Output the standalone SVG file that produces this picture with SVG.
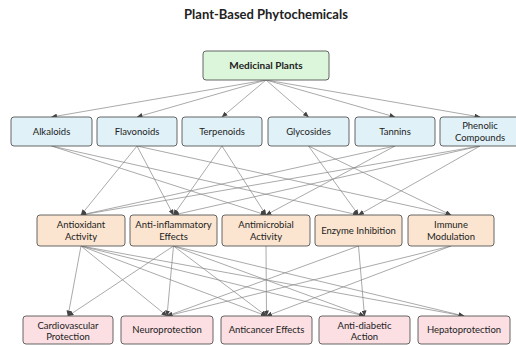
<svg xmlns="http://www.w3.org/2000/svg" width="516" height="345" viewBox="0 0 516 345">
<defs>
<marker id="ah" markerWidth="6" markerHeight="5" refX="5.5" refY="2.5" orient="auto" markerUnits="userSpaceOnUse">
<path d="M0,0 L6,2.5 L0,5 Z" fill="#444"/>
</marker>
<style>
.t{font-family:Lato,"Open Sans","Liberation Sans",sans-serif;font-size:9.5px;fill:#222;text-anchor:middle}
.b{stroke:#555;stroke-width:0.9}
.g{fill:#dcf6dc}.bl{fill:#e0f1f8}.o{fill:#fbe5d0}.p{fill:#fbdfe2}
#edges line{stroke:#858585;stroke-width:0.7;marker-end:url(#ah)}
</style>
</defs>
<rect width="516" height="345" fill="#fff"/>
<text x="266" y="19" style="font-family:Lato,'Open Sans','Liberation Sans',sans-serif;font-size:13px;font-weight:bold;fill:#222;text-anchor:middle">Plant-Based Phytochemicals</text>
<g id="edges">
<line x1="266" y1="80" x2="51.5" y2="117"/>
<line x1="266" y1="80" x2="137" y2="117"/>
<line x1="266" y1="80" x2="222" y2="117"/>
<line x1="266" y1="80" x2="308.5" y2="117"/>
<line x1="266" y1="80" x2="395" y2="117"/>
<line x1="266" y1="80" x2="480" y2="117"/>
<line x1="51.5" y1="146" x2="266" y2="215"/>
<line x1="51.5" y1="146" x2="358.5" y2="215"/>
<line x1="137" y1="146" x2="81" y2="215"/>
<line x1="137" y1="146" x2="173.5" y2="215"/>
<line x1="137" y1="146" x2="451" y2="215"/>
<line x1="222" y1="146" x2="173.5" y2="215"/>
<line x1="222" y1="146" x2="266" y2="215"/>
<line x1="308.5" y1="146" x2="358.5" y2="215"/>
<line x1="308.5" y1="146" x2="451" y2="215"/>
<line x1="395" y1="146" x2="81" y2="215"/>
<line x1="395" y1="146" x2="266" y2="215"/>
<line x1="480" y1="146" x2="81" y2="215"/>
<line x1="480" y1="146" x2="173.5" y2="215"/>
<line x1="480" y1="146" x2="358.5" y2="215"/>
<line x1="81" y1="246" x2="68" y2="316"/>
<line x1="81" y1="246" x2="167" y2="316"/>
<line x1="81" y1="246" x2="266.5" y2="316"/>
<line x1="81" y1="246" x2="364.5" y2="316"/>
<line x1="81" y1="246" x2="464" y2="316"/>
<line x1="173.5" y1="246" x2="68" y2="316"/>
<line x1="173.5" y1="246" x2="167" y2="316"/>
<line x1="173.5" y1="246" x2="266.5" y2="316"/>
<line x1="173.5" y1="246" x2="364.5" y2="316"/>
<line x1="173.5" y1="246" x2="464" y2="316"/>
<line x1="266" y1="246" x2="266.5" y2="316"/>
<line x1="358.5" y1="246" x2="167" y2="316"/>
<line x1="358.5" y1="246" x2="364.5" y2="316"/>
<line x1="451" y1="246" x2="167" y2="316"/>
<line x1="451" y1="246" x2="266.5" y2="316"/>
</g>
<g id="medicinal"><rect class="b g" x="203" y="51" width="126" height="29" rx="3"/><text class="t" x="266" y="68.5" style="font-weight:bold;font-size:10px">Medicinal Plants</text></g>
<g id="alkaloids"><rect class="b bl" x="11" y="117" width="81" height="29" rx="3"/><text class="t" x="51.5" y="134.5">Alkaloids</text></g>
<g id="flavonoids"><rect class="b bl" x="97" y="117" width="80" height="29" rx="3"/><text class="t" x="137" y="134.5">Flavonoids</text></g>
<g id="terpenoids"><rect class="b bl" x="182" y="117" width="80" height="29" rx="3"/><text class="t" x="222" y="134.5">Terpenoids</text></g>
<g id="glycosides"><rect class="b bl" x="268" y="117" width="81" height="29" rx="3"/><text class="t" x="308.5" y="134.5">Glycosides</text></g>
<g id="tannins"><rect class="b bl" x="355" y="117" width="80" height="29" rx="3"/><text class="t" x="395" y="134.5">Tannins</text></g>
<g id="phenolic"><rect class="b bl" x="440" y="117" width="80" height="29" rx="3"/><text class="t" x="480" y="129">Phenolic</text><text class="t" x="480" y="140.5">Compounds</text></g>
<g id="antioxidant"><rect class="b o" x="37" y="215" width="88" height="31" rx="3"/><text class="t" x="81" y="228">Antioxidant</text><text class="t" x="81" y="239.5">Activity</text></g>
<g id="antiinflammatory"><rect class="b o" x="130" y="215" width="87" height="31" rx="3"/><text class="t" x="173.5" y="228">Anti-inflammatory</text><text class="t" x="173.5" y="239.5">Effects</text></g>
<g id="antimicrobial"><rect class="b o" x="222" y="215" width="88" height="31" rx="3"/><text class="t" x="266" y="228">Antimicrobial</text><text class="t" x="266" y="239.5">Activity</text></g>
<g id="enzyme"><rect class="b o" x="315" y="215" width="87" height="31" rx="3"/><text class="t" x="358.5" y="234">Enzyme Inhibition</text></g>
<g id="immune"><rect class="b o" x="408" y="215" width="86" height="31" rx="3"/><text class="t" x="451" y="228">Immune</text><text class="t" x="451" y="239.5">Modulation</text></g>
<g id="cardio"><rect class="b p" x="23" y="316" width="90" height="28" rx="3"/><text class="t" x="68" y="328.5">Cardiovascular</text><text class="t" x="68" y="340">Protection</text></g>
<g id="neuro"><rect class="b p" x="121" y="316" width="92" height="28" rx="3"/><text class="t" x="167" y="333">Neuroprotection</text></g>
<g id="anticancer"><rect class="b p" x="221" y="316" width="91" height="28" rx="3"/><text class="t" x="266.5" y="333">Anticancer Effects</text></g>
<g id="antidiabetic"><rect class="b p" x="319" y="316" width="91" height="28" rx="3"/><text class="t" x="364.5" y="328.5">Anti-diabetic</text><text class="t" x="364.5" y="340">Action</text></g>
<g id="hepato"><rect class="b p" x="418" y="316" width="92" height="28" rx="3"/><text class="t" x="464" y="333">Hepatoprotection</text></g>
</svg>
